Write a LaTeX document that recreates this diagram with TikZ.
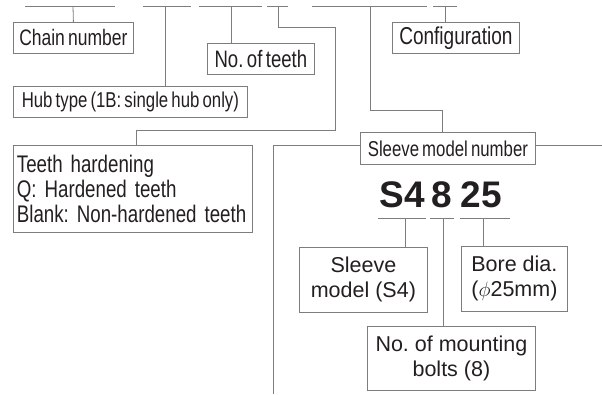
\documentclass[tikz,border=0pt]{standalone}
\usepackage{fontspec}
\setmainfont{Liberation Sans}
\newfontfamily\estreita{Liberation Sans}[FakeStretch=0.78, WordSpace=0.68]
\usepackage{xcolor}
\definecolor{linha}{HTML}{7D7D7D}
\definecolor{tinta}{HTML}{231F20}

\begin{document}
\frenchspacing
\begin{tikzpicture}[
        x=1pt, y=-1pt,
        every node/.style={text=tinta},
        caixa/.style={draw=linha, rectangle, anchor=north west, inner sep=2pt, line width=0.8pt},
        rotulo/.style={caixa, font=\estreita\fontsize{#1}{25}\selectfont},
        rotulo/.default=22,
        bloco/.style={caixa, align=center, font=\fontsize{21.5}{25}\selectfont},
        digito/.style={anchor=base, inner sep=0pt, font=\fontsize{37}{37}\selectfont\bfseries},
        fio/.style={draw=linha, line width=0.8pt}
    ]
        \useasboundingbox (0,0) rectangle (602,394);

        % Caixas de cima
        \node (cadeia) [rotulo=22.4, minimum width=120, minimum height=31] at (13,22) {Chain number};
        \node (dentes) [rotulo=23.8, minimum width=107, minimum height=31] at (207,43) {No. of teeth};
        \node (cubo) [rotulo=21.5, minimum width=234, minimum height=31] at (13,86) {Hub type (1B: single hub only)};
        \node (config) [rotulo=24.4, minimum width=127, minimum height=31] at (392,22) {Configuration};
        \node (tempera) [rotulo=24, minimum height=87, text width=232, align=left, inner xsep=3.5] at (13,145)
            {Teeth hardening\\Q: Hardened teeth\\Blank: Non-hardened teeth};
        \node (manga) [rotulo=21.5, minimum width=175, minimum height=32] at (360,132) {Sleeve model number};

        % Codigo da luva
        \node (s4) [digito] at (402,207) {S4};
        \node (oito) [digito] at (442,207) {8};
        \node (vc) [digito] at (481,207) {25};

        % Caixas de baixo
        \node (modelo) [bloco, minimum width=128, minimum height=65] at (299,247) {Sleeve\\model (S4)};
        \node (furo) [bloco, minimum width=106, minimum height=65] at (461,246) {Bore dia.\\($\phi$25mm)};
        \node (parafusos) [bloco, minimum width=168, minimum height=64] at (367,326) {No. of mounting\\bolts (8)};

        % Sublinhados de cima
        \foreach \a/\b in {25/115, 143/191, 199/262, 267/288, 312/427, 433/457}
            \draw[fio] (\a,6) -- (\b,6);
        \coordinate (t1) at (73,6);
        \coordinate (t2) at (165,6);
        \coordinate (t3) at (231,6);
        \coordinate (t4) at (278,6);
        \coordinate (t5) at (370,6);
        \coordinate (t6) at (445,6);

        % Ligacoes de cima
        \draw[fio] (t1) -- (cadeia.north);
        \draw[fio] (t2) -- (t2 |- cubo.north);
        \draw[fio] (t3) -- (t3 |- dentes.north);
        \draw[fio] (t4) -- ++(0,21) -| (335,130) -| ([xshift=3.5]tempera.north);
        \draw[fio] (t5) -- ++(0,104) -| ([xshift=-6]manga.north);
        \draw[fio] (t6) -- (t6 |- config.north);

        % Linha da luva
        \coordinate (base) at (273,394);
        \draw[fio] (base) |- ([yshift=3]manga.west);
        \draw[fio] ([yshift=3]manga.east) -- ++(67,0);

        % Sublinhados da luva
        \foreach \a/\b in {378/426, 430/454, 460/510}
            \draw[fio] (\a,218) -- (\b,218);
        \coordinate (k1) at (405,218);
        \coordinate (k2) at (443,218);
        \coordinate (k3) at (483,218);
        \draw[fio] (k1) -- (k1 |- modelo.north);
        \draw[fio] (k2) -- (k2 |- parafusos.north);
        \draw[fio] (k3) -- (k3 |- furo.north);
    \end{tikzpicture}
\end{document}
